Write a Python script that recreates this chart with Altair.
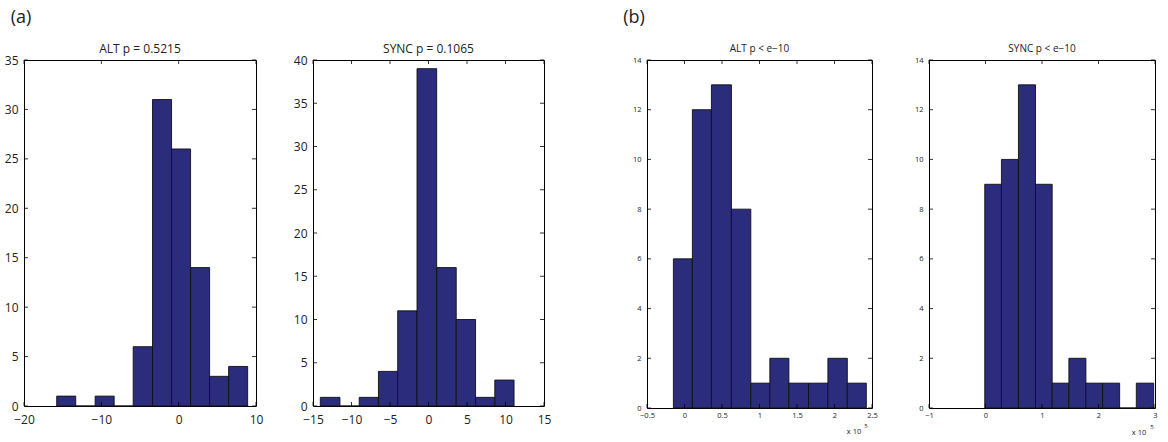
import altair as alt
import pandas as pd

# ---------------- data ----------------
# (a) ALT p = 0.5215
a_alt_edges = [-15.77, -13.31, -10.80, -8.34, -5.88, -3.38, -0.92, 1.54, 4.00, 6.46, 8.92]
a_alt_counts = [1, 0, 1, 0, 6, 31, 26, 14, 3, 4]
a_alt_xticks = [-20, -10, 0, 10]
a_alt_yticks = [0, 5, 10, 15, 20, 25, 30, 35]

# (a) SYNC p = 0.1065
a_sync_edges = [-14.05, -11.50, -9.00, -6.50, -4.00, -1.49, 1.06, 3.60, 6.11, 8.61, 11.11]
a_sync_counts = [1, 0, 1, 4, 11, 39, 16, 10, 1, 3]
a_sync_xticks = [-15, -10, -5, 0, 5, 10, 15]
a_sync_yticks = [0, 5, 10, 15, 20, 25, 30, 35, 40]

# (b) ALT p < e-10   (x in units of 10^5)
b_alt_edges = [-0.148, 0.105, 0.359, 0.626, 0.884, 1.138, 1.392, 1.654, 1.912, 2.171, 2.424]
b_alt_counts = [6, 12, 13, 8, 1, 2, 1, 1, 2, 1]
b_alt_xticks = [-0.5, 0, 0.5, 1, 1.5, 2, 2.5]
b_alt_yticks = [0, 2, 4, 6, 8, 10, 12, 14]

# (b) SYNC p < e-10  (x in units of 10^5)
b_sync_edges = [-0.013, 0.282, 0.583, 0.885, 1.180, 1.476, 1.777, 2.072, 2.374, 2.669, 2.976]
b_sync_counts = [9, 10, 13, 9, 1, 2, 1, 1, 0, 1]
b_sync_xticks = [-1, 0, 1, 2, 3]
b_sync_yticks = [0, 2, 4, 6, 8, 10, 12, 14]

BLUE = "#2b2c7c"
FONT = "Open Sans"
INK = "#222222"
FRAME = alt.ViewBackground(stroke="black", strokeWidth=1)


def panel(edges, counts, title, xticks, yticks, W, H, fs_lab, fs_title, xpad, extras):
    df = pd.DataFrame({"x0": edges[:-1], "x1": edges[1:], "n": counts, "base": [0] * len(counts)})
    xs = alt.Scale(domain=[xticks[0], xticks[-1]], nice=False, zero=False)
    ys = alt.Scale(domain=[yticks[0], yticks[-1]], nice=False, zero=False)
    xax = alt.Axis(values=xticks, title=None, ticks=False, domain=False, grid=False, format="~r",
                   labelFontSize=fs_lab, labelFont=FONT, labelColor=INK, labelFlush=False,
                   labelOverlap=False, labelPadding=xpad)
    yax = alt.Axis(values=yticks, title=None, ticks=False, domain=False, grid=False, format="~r",
                   labelFontSize=fs_lab, labelFont=FONT, labelColor=INK, labelOverlap=False,
                   labelPadding=6)
    bars = alt.Chart(df).mark_rect(fill=BLUE, stroke="#111111", strokeWidth=0.9).encode(
        x=alt.X("x0:Q", scale=xs, axis=xax),
        x2="x1:Q",
        y=alt.Y("n:Q", scale=ys, axis=yax),
        y2="base:Q",
    )
    xt = pd.DataFrame({"t": xticks})
    yt = pd.DataFrame({"t": yticks})
    tl = 4
    bottom = alt.Chart(xt).mark_rule(color="black", strokeWidth=0.8).encode(
        x=alt.X("t:Q", scale=xs, axis=xax), y=alt.value(H), y2=alt.value(H - tl))
    top = alt.Chart(xt).mark_rule(color="black", strokeWidth=0.8).encode(
        x=alt.X("t:Q", scale=xs, axis=xax), y=alt.value(0), y2=alt.value(tl))
    left = alt.Chart(yt).mark_rule(color="black", strokeWidth=0.8).encode(
        y=alt.Y("t:Q", scale=ys, axis=yax), x=alt.value(0), x2=alt.value(tl))
    right = alt.Chart(yt).mark_rule(color="black", strokeWidth=0.8).encode(
        y=alt.Y("t:Q", scale=ys, axis=yax), x=alt.value(W), x2=alt.value(W - tl))
    layers = [bars, bottom, top, left, right]
    texts = [(title, W / 2, -11, fs_title)] + extras
    for txt, px, py, fs in texts:
        layers.append(
            alt.Chart(pd.DataFrame({"s": [txt]})).mark_text(
                font=FONT, fontSize=fs, color=INK, align="center", baseline="middle"
            ).encode(text="s:N", x=alt.value(px), y=alt.value(py))
        )
    return alt.layer(*layers).properties(width=W, height=H, view=FRAME)


def spacer(W, H):
    return alt.Chart(pd.DataFrame({"a": [0]})).mark_point(opacity=0).encode(
        x=alt.value(0), y=alt.value(0)
    ).properties(width=W, height=H, view=alt.ViewBackground(stroke="transparent"))


p1 = panel(a_alt_edges, a_alt_counts, "ALT p = 0.5215", a_alt_xticks, a_alt_yticks, 232, 346, 12, 12, 8,
           extras=[("(a)", -3, -42, 18)])
p2 = panel(a_sync_edges, a_sync_counts, "SYNC p = 0.1065", a_sync_xticks, a_sync_yticks, 231, 346, 12, 12, 8,
           extras=[])
p3 = panel(b_alt_edges, b_alt_counts, "ALT p < e\u221210", b_alt_xticks, b_alt_yticks, 225, 348, 7.5, 10, 3,
           extras=[("(b)", -13, -42, 18), ("x 10", 207, 372, 7.5), ("5", 219, 366, 6)])
p4 = panel(b_sync_edges, b_sync_counts, "SYNC p < e\u221210", b_sync_xticks, b_sync_yticks, 226, 348, 7.5, 10, 3,
           extras=[("x 10", 210, 373, 7.5), ("5", 223, 367, 6)])

chart = alt.hconcat(
    p1, spacer(57, 346), p2, spacer(103, 346), p3, spacer(57, 348), p4,
    spacing=0, bounds="flush"
).properties(
    padding={"left": 3, "top": 8, "right": 5, "bottom": 5}
).configure(background="white")

chart.save("out.html", embed_options={"renderer": "svg", "actions": False})
